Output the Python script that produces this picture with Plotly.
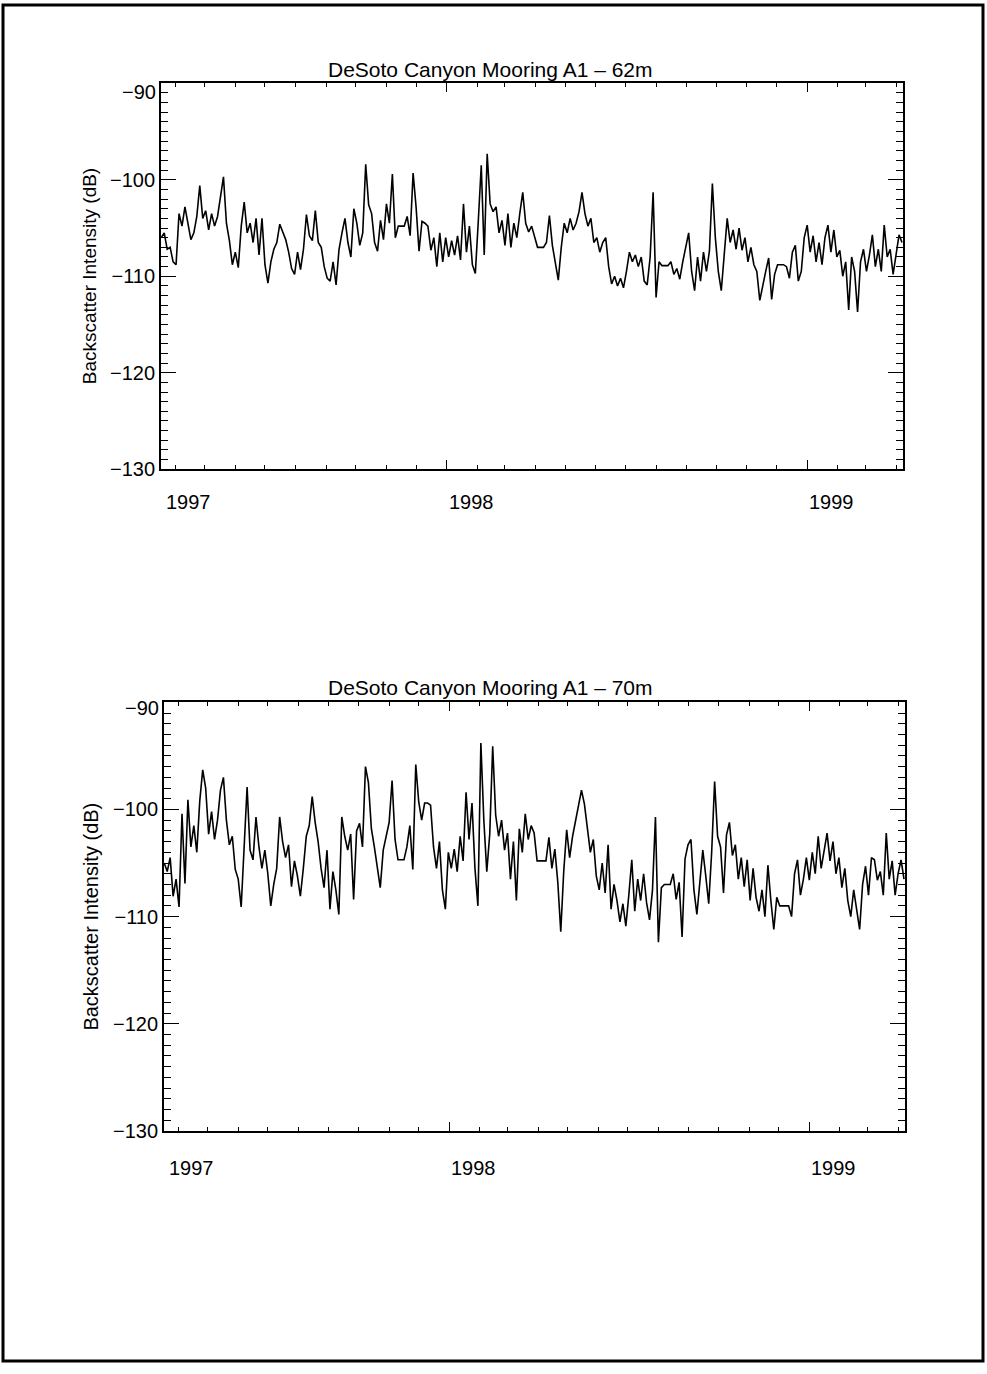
import pandas as pd
import plotly.graph_objects as go

# Backscatter intensity (dB), DeSoto Canyon mooring A1, one value every 3 days
sample_start = "1997-03-18"
sample_step_days = 3

bs_62m = [
    -106.0, -105.5, -107.2, -107.0, -108.5, -108.8, -103.5, -104.8, -102.8, -104.5,
    -106.2, -105.5, -103.8, -100.6, -104.0, -103.2, -105.2, -103.5, -104.8, -103.8,
    -101.6, -99.7, -104.5, -106.3, -108.8, -107.5, -109.1, -104.8, -102.3, -105.5,
    -104.5, -106.5, -104.0, -107.8, -104.0, -108.8, -110.7, -108.5, -107.2, -106.5,
    -104.6, -105.5, -106.2, -107.5, -109.2, -109.8, -107.5, -109.3, -107.2, -103.6,
    -105.8, -106.3, -103.2, -106.5, -107.0, -109.0, -110.2, -110.5, -108.5, -110.9,
    -107.2, -105.5, -104.0, -106.5, -108.0, -103.0, -104.5, -106.8, -105.5, -98.4,
    -102.6, -103.5, -106.5, -107.4, -104.2, -106.2, -102.5, -104.5, -99.4, -106.0,
    -104.8, -104.8, -104.8, -103.8, -105.8, -99.3, -102.8, -107.4, -104.3, -104.5,
    -104.8, -107.3, -106.0, -109.0, -105.5, -108.5, -106.0, -108.0, -106.3, -107.8,
    -105.8, -108.3, -102.5, -107.5, -104.8, -108.8, -109.7, -104.3, -98.5, -107.8,
    -97.3, -102.5, -103.3, -102.8, -105.5, -104.2, -106.8, -103.5, -107.0, -104.5,
    -106.0, -103.5, -101.3, -104.5, -105.4, -104.8, -106.0, -107.0, -107.0, -107.0,
    -106.5, -103.7, -106.8, -108.5, -110.4, -107.0, -104.5, -105.5, -104.0, -105.2,
    -104.5, -103.3, -101.3, -103.5, -104.8, -104.0, -106.5, -106.0, -107.5, -106.5,
    -106.0, -109.0, -110.8, -110.0, -111.0, -110.2, -111.2, -109.5, -107.5, -108.5,
    -107.8, -109.0, -108.0, -110.5, -110.9, -108.0, -101.3, -112.2, -108.5, -108.9,
    -108.9, -108.9, -108.5, -109.8, -109.2, -110.3, -108.5, -107.0, -105.5, -109.5,
    -111.5, -108.0, -110.5, -107.5, -109.5, -107.4, -100.4, -106.0, -109.5, -111.5,
    -108.0, -104.0, -106.5, -105.2, -107.2, -105.0, -107.3, -106.0, -108.5, -107.0,
    -108.8, -109.5, -112.5, -110.8, -109.5, -108.1, -112.4, -109.8, -108.8, -108.8,
    -108.8, -109.0, -110.2, -107.5, -106.8, -110.5, -109.5, -106.0, -104.7, -107.5,
    -105.8, -108.5, -106.5, -108.8, -106.0, -104.7, -107.5, -105.2, -108.0, -107.3,
    -110.0, -108.5, -113.5, -108.0, -109.5, -113.7, -108.5, -107.2, -109.5, -107.8,
    -105.7, -109.0, -107.2, -109.5, -104.7, -108.0, -107.2, -109.8, -107.5, -105.7,
    -106.5,
]

bs_70m = [
    -105.0, -105.8, -104.5, -108.1, -106.5, -109.1, -100.4, -106.9, -99.1, -103.5,
    -101.5, -104.0, -99.2, -96.3, -98.0, -102.3, -100.2, -102.8, -101.0, -98.2,
    -97.0, -101.0, -103.3, -102.5, -105.6, -106.5, -109.1, -103.8, -97.9, -103.8,
    -104.7, -100.7, -103.5, -105.5, -103.8, -106.0, -109.0, -107.0, -105.5, -100.7,
    -103.0, -104.5, -103.3, -107.2, -104.8, -106.2, -108.1, -105.5, -102.5, -101.5,
    -98.8, -101.2, -103.0, -105.5, -107.3, -103.8, -109.3, -105.8, -107.5, -109.8,
    -100.7, -102.5, -103.8, -102.3, -108.4, -102.0, -101.3, -103.5, -96.0, -97.5,
    -101.8, -103.5, -105.3, -107.3, -103.8, -102.5, -101.2, -97.3, -102.8, -104.7,
    -104.7, -104.7, -103.5, -101.5, -105.6, -95.8, -99.3, -101.0, -99.4, -99.4,
    -99.6, -103.5, -105.5, -103.0, -107.5, -109.3, -104.0, -105.5, -103.7, -105.8,
    -102.5, -104.8, -98.4, -102.8, -99.4, -105.5, -109.0, -93.8, -101.0, -105.8,
    -102.3, -94.1, -100.5, -102.5, -101.0, -103.8, -102.2, -106.5, -103.0, -108.5,
    -101.8, -104.0, -100.4, -102.8, -101.5, -102.2, -104.8, -104.8, -104.8, -104.8,
    -102.6, -105.5, -103.7, -106.8, -111.4, -105.8, -101.9, -104.5, -102.5, -101.0,
    -99.8, -98.2, -99.5, -101.8, -104.0, -102.8, -106.2, -107.5, -105.0, -107.8,
    -103.3, -109.3, -107.0, -108.5, -110.5, -108.8, -110.9, -108.0, -104.7, -109.5,
    -106.5, -108.5, -106.0, -108.7, -110.3, -107.5, -100.7, -112.4, -107.3, -107.0,
    -107.0, -107.0, -106.0, -108.4, -106.8, -111.9, -104.6, -103.3, -102.8, -107.5,
    -109.8, -106.5, -103.8, -106.2, -108.8, -104.0, -97.4, -102.5, -103.5, -107.8,
    -102.4, -101.2, -104.3, -103.3, -106.5, -104.5, -107.2, -104.7, -108.5, -105.5,
    -108.2, -109.5, -107.5, -110.0, -105.2, -108.5, -111.2, -108.2, -109.0, -109.0,
    -109.0, -109.0, -110.0, -106.0, -104.7, -108.0, -106.5, -104.5, -106.6, -104.0,
    -106.0, -102.5, -105.5, -103.8, -102.2, -104.8, -103.0, -106.0, -104.5, -107.3,
    -105.5, -108.5, -110.0, -107.5, -109.3, -111.2, -107.0, -105.3, -108.0, -104.5,
    -104.7, -106.6, -105.8, -108.0, -102.2, -106.5, -104.8, -108.0, -106.0, -104.7,
    -106.5,
]

panel_titles = ["DeSoto Canyon Mooring A1 \u2013 62m", "DeSoto Canyon Mooring A1 \u2013 70m"]
y_title = "Backscatter Intensity (dB)"
year_labels = ["1997", "1998", "1999"]
year_ticks = ["1998-01-01", "1999-01-01"]
y_ticks = [-130, -120, -110, -100, -90]
x_range = ["1997-03-17 18:00", "1999-04-08"]
y_range = [-130, -90]

times_62 = pd.Timestamp(sample_start) + pd.to_timedelta(
    [sample_step_days * i for i in range(len(bs_62m))], unit="D")
times_70 = pd.Timestamp(sample_start) + pd.to_timedelta(
    [sample_step_days * i for i in range(len(bs_70m))], unit="D")
month_ticks = [d.strftime("%Y-%m-%d") for d in pd.date_range("1997-04-01", "1999-04-01", freq="MS")]

W, H = 987, 1374
FONT = "Liberation Sans, Arial, Helvetica, sans-serif"
LABEL_SIZE = 20

def px_x(v):
    return v / W

def px_y(v):
    return 1 - v / H

# panel frames in page pixels: left, right, top, bottom
panels = [
    dict(l=161, r=903, t=84, b=473, title_y=70, year_dy=33, ylab_x=89, ylab_size=19,
         year_x0=3, m90_shift=-9),
    dict(l=164, r=905, t=708, b=1140, title_y=693, year_dy=37, ylab_x=91, ylab_size=20,
         year_x0=3, m90_shift=-6),
]

fig = go.Figure()
fig.add_trace(go.Scatter(x=times_62, y=bs_62m, mode="lines",
                         line=dict(color="black", width=1.6), xaxis="x", yaxis="y",
                         hoverinfo="x+y"))
fig.add_trace(go.Scatter(x=times_70, y=bs_70m, mode="lines",
                         line=dict(color="black", width=1.6), xaxis="x2", yaxis="y2",
                         hoverinfo="x+y"))

annotations = []
for k, p in enumerate(panels):
    sfx = "" if k == 0 else str(k + 1)
    xa = dict(
        type="date", range=x_range, domain=[px_x(p["l"]), px_x(p["r"])],
        anchor="y" + sfx, showgrid=False, zeroline=False,
        showline=True, linecolor="black", linewidth=1.8, mirror="allticks",
        ticks="inside", ticklen=9, tickwidth=1.4, tickcolor="black",
        tickmode="array", tickvals=year_ticks, showticklabels=False,
        minor=dict(ticks="inside", ticklen=4, tickwidth=1.2, tickcolor="black",
                   tickmode="array", tickvals=month_ticks, showgrid=False),
    )
    ya = dict(
        range=y_range, domain=[px_y(p["b"]), px_y(p["t"])],
        anchor="x" + sfx, showgrid=False, zeroline=False,
        showline=True, linecolor="black", linewidth=1.8, mirror="allticks",
        ticks="inside", ticklen=15, tickwidth=1.4, tickcolor="black",
        tickmode="array", tickvals=y_ticks,
        ticktext=["\u2212130", "\u2212120", "\u2212110", "\u2212100", ""],
        tickfont=dict(family=FONT, size=LABEL_SIZE, color="black"),
        minor=dict(ticks="inside", ticklen=7, tickwidth=1.2, tickcolor="black",
                   dtick=1, tick0=-130, showgrid=False),
    )
    fig.update_layout(**{"xaxis" + sfx: xa, "yaxis" + sfx: ya})

    # panel title
    annotations.append(dict(text=panel_titles[k], xref="paper", yref="paper",
                            x=0.497, y=px_y(p["title_y"]), xanchor="center",
                            yanchor="middle", showarrow=False,
                            font=dict(family=FONT, size=21, color="black")))
    # y-axis title
    annotations.append(dict(text=y_title, xref="paper", yref="paper",
                            x=px_x(p["ylab_x"]), y=px_y((p["t"] + p["b"]) / 2),
                            xanchor="center", yanchor="middle", textangle=-90,
                            showarrow=False,
                            font=dict(family=FONT, size=p["ylab_size"], color="black")))
    # top tick label sits a little below the frame
    annotations.append(dict(text="\u221290", xref="x" + sfx + " domain", yref="y" + sfx,
                            x=0, y=-90, xanchor="right", yanchor="middle",
                            xshift=-3, yshift=p["m90_shift"], showarrow=False,
                            font=dict(family=FONT, size=LABEL_SIZE, color="black")))
    # year labels under the time axis
    year_pos = [x_range[0]] + year_ticks
    shifts = [p["year_x0"], 0, 0]
    for lab, xv, sh in zip(year_labels, year_pos, shifts):
        annotations.append(dict(text=lab, xref="x" + sfx, yref="y" + sfx + " domain",
                                x=xv, y=0, xanchor="left", yanchor="middle",
                                xshift=sh, yshift=-p["year_dy"], showarrow=False,
                                font=dict(family=FONT, size=LABEL_SIZE, color="black")))

# page border
shapes = [dict(type="rect", xref="paper", yref="paper",
               x0=px_x(3), x1=px_x(983), y0=px_y(1372), y1=px_y(5),
               line=dict(color="black", width=3))]

fig.update_layout(
    width=W, height=H, margin=dict(l=0, r=0, t=0, b=0),
    paper_bgcolor="white", plot_bgcolor="white", showlegend=False,
    font=dict(family=FONT, color="black"),
    annotations=annotations, shapes=shapes,
)

fig.write_html("out.html")
